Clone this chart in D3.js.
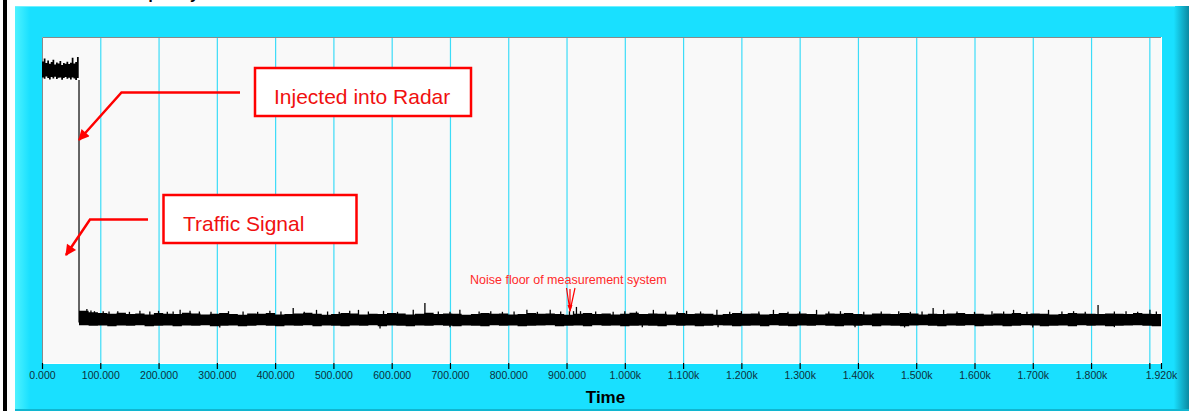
<!DOCTYPE html>
<html>
<head>
<meta charset="utf-8">
<script src="https://cdn.jsdelivr.net/npm/d3@7"></script>
<style>
  body { margin: 0; background: #fff; }
  svg { display: block; font-family: "Liberation Sans", Arial, sans-serif; }
</style>
</head>
<body>
<div id="chart"></div>
<script>
// time axis ticks
const tickValues = [0,100,200,300,400,500,600,700,800,900,1000,1100,1200,1300,1400,1500,1600,1700,1800,1900,1920];
const hiddenTickLabels = [1900];

// injected segment (before the drop), envelope of the noisy trace
const highStart = 0, highStep = 3;
const highTop = [92.5,93.4,92.0,92.8,91.8,92.3,93.0,91.6,92.2,91.9,92.6,91.4,92.0,91.8,92.4,91.7,92.1,93.6,91.9,92.3,93.9,92.6];
const highBot = [87.6,87.2,87.9,87.4,87.0,87.7,87.3,87.8,87.1,87.5,87.6,86.9,87.4,87.7,87.2,87.5,87.0,87.6,87.3,86.8,87.4,87.2];

// drop time
const dropTime = 63.5;
const dropLevel = [86.8, 12.4];

// noise floor segment, envelope sampled every 16 time units
const lowStart = 64, lowStep = 16;
const lowTop = [
16.0,15.6,15.3,15.1,15.4,15.0,15.2,14.9,15.3,15.1,
15.0,15.4,15.2,14.9,15.1,15.3,15.0,14.8,15.2,15.1,
15.3,14.9,15.0,15.2,15.4,15.1,14.8,15.0,15.3,15.2,
14.9,15.1,15.0,15.3,15.2,14.9,15.1,15.4,15.0,15.2,
15.1,14.8,15.0,15.3,15.1,15.2,14.9,15.0,15.3,15.1,
15.2,15.0,14.8,15.1,15.3,15.0,15.2,14.9,15.1,15.4,
15.0,15.2,15.1,14.9,15.3,15.0,15.2,15.1,14.8,15.0,
15.3,15.1,15.2,14.9,15.0,15.3,15.1,15.2,15.0,14.9,
15.2,15.1,15.3,15.0,14.9,15.2,15.1,15.0,15.3,15.2,
14.9,15.1,15.0,15.2,15.3,15.0,15.1,14.9,15.2,15.1,
15.3,15.0,15.2,15.1,14.9,15.0,15.3,15.2,15.1,15.0,
15.2,15.1,15.0,15.3,15.1,15.0,15.2];
const lowBot = [
11.6,11.4,11.5,11.3,11.5,11.4,11.6,11.3,11.4,11.5,
11.3,11.5,11.4,11.6,11.3,11.4,11.5,11.3,11.4,11.6,
11.4,11.3,11.5,11.4,11.6,11.3,11.5,11.4,11.3,11.5,
11.4,11.6,11.3,11.5,11.4,11.3,11.5,11.4,11.6,11.4,
11.3,11.5,11.4,11.3,11.6,11.4,11.5,11.3,11.4,11.5,
11.6,11.3,11.4,11.5,11.3,11.6,11.4,11.5,11.3,11.4,
11.5,11.4,11.3,11.6,11.4,11.5,11.3,11.4,11.6,11.5,
11.3,11.4,11.5,11.3,11.6,11.4,11.3,11.5,11.4,11.6,
11.4,11.3,11.5,11.4,11.6,11.3,11.5,11.4,11.3,11.5,
11.6,11.4,11.3,11.5,11.4,11.6,11.3,11.4,11.5,11.3,
11.4,11.6,11.5,11.3,11.4,11.5,11.3,11.6,11.4,11.5,
11.3,11.4,11.5,11.6,11.4,11.3,11.5];

// individual noise spikes [time, peak level]
const spikes = [
[77,16.6],[84,16.1],[90,15.9],[105,15.9],[115,15.8],[130,15.9],[150,15.7],[168,16.0],[185,15.8],[200,16.0],[215,15.7],
[225,15.8],[237,16.3],[254,16.0],[270,15.8],[290,15.7],[320,15.9],[345,15.8],[370,15.7],[391,16.0],[410,15.8],
[431,16.9],[450,15.7],[471,16.3],[490,15.8],[510,15.7],[528,16.0],[543,16.3],[560,15.8],[586,16.0],
[610,15.7],[637,16.3],[657,18.4],[680,15.8],[700,15.7],[717,16.3],[750,15.8],[770,15.9],[790,15.7],
[810,15.8],[832,16.3],[850,15.7],[872,16.3],[890,15.8],[905,15.9],[912,15.9],[917,17.2],[924,15.9],
[950,15.8],[980,15.7],[1000,15.9],[1020,15.8],[1049,16.3],[1070,15.8],[1090,15.7],[1106,16.0],[1130,15.8],
[1158,16.3],[1180,15.7],[1200,15.9],[1230,15.8],[1255,16.3],[1280,15.7],[1300,15.8],[1329,16.3],
[1350,15.8],[1370,15.9],[1410,15.7],[1440,15.8],[1470,15.9],[1490,15.7],[1510,15.8],[1529,16.9],
[1547,16.3],[1570,15.8],[1600,15.7],[1630,15.9],[1650,15.8],[1667,16.3],[1690,15.7],[1727,16.3],
[1750,15.8],[1770,15.9],[1790,15.7],[1812,17.8],[1840,15.8],[1860,15.9],[1880,15.7],[1901,16.3],[1912,15.8]];
// downward dips [time, lowest level]
const dips = [[305,10.9],[580,10.6],[700,11.0],[1030,11.0],[1160,11.0],[1395,11.0],[1480,10.9],[1700,10.9],[1840,11.0]];

const W = 1189, H = 411;
const plot = { left: 42, right: 1161, top: 37, bottom: 363 };

const svg = d3.select('#chart').append('svg')
  .attr('width', W)
  .attr('height', H);

const defs = svg.append('defs');

const rightEdge = defs.append('linearGradient').attr('id', 'right-edge');
rightEdge.append('stop').attr('offset', '0%').attr('stop-color', '#19dffd');
rightEdge.append('stop').attr('offset', '100%').attr('stop-color', '#0b8aa2');

const leftEdge = defs.append('linearGradient').attr('id', 'left-edge');
leftEdge.append('stop').attr('offset', '0%').attr('stop-color', '#4ff2ff');
leftEdge.append('stop').attr('offset', '100%').attr('stop-color', '#19e0ff');

defs.append('marker')
  .attr('id', 'red-arrow')
  .attr('viewBox', '0 -5 10 10')
  .attr('refX', 9)
  .attr('markerWidth', 16)
  .attr('markerHeight', 11)
  .attr('markerUnits', 'userSpaceOnUse')
  .attr('orient', 'auto')
  .append('path')
  .attr('d', 'M0,-5L10,0L0,5Z')
  .attr('fill', '#ff0000');

// page bits around the panel (title is cut off by the top of the picture)
svg.append('rect').attr('x', 3).attr('y', 0).attr('width', 4).attr('height', H).attr('fill', '#000');
svg.append('text')
  .attr('x', 118).attr('y', -1)
  .attr('font-size', 16).attr('font-weight', 'bold')
  .text('Frequency');

// cyan panel
svg.append('rect').attr('x', 15).attr('y', 6).attr('width', 1174).attr('height', 405).attr('fill', '#19e0ff');
svg.append('rect').attr('x', 15).attr('y', 6).attr('width', 15).attr('height', 405).attr('fill', 'url(#left-edge)');
svg.append('rect').attr('x', 1174).attr('y', 6).attr('width', 15).attr('height', 405).attr('fill', 'url(#right-edge)');
svg.append('rect').attr('x', 15).attr('y', 6).attr('width', 1160).attr('height', 1).attr('fill', '#6ef0ff');
svg.append('rect').attr('x', 15).attr('y', 409).attr('width', 1174).attr('height', 2).attr('fill', '#10b6d0');

// plot area
svg.append('rect')
  .attr('x', plot.left).attr('y', plot.top)
  .attr('width', plot.right - plot.left).attr('height', plot.bottom - plot.top)
  .attr('fill', '#f9f9f9');

const x = d3.scaleLinear().domain([0, 1920]).range([plot.left, plot.right]);
const y = d3.scaleLinear().domain([0, 100]).range([plot.bottom, plot.top]);

// grid lines
svg.append('g')
  .selectAll('line')
  .data(tickValues.filter(t => t > 0 && t < 1920))
  .join('line')
  .attr('x1', d => x(d) + 0.5).attr('x2', d => x(d) + 0.5)
  .attr('y1', plot.top).attr('y2', plot.bottom)
  .attr('stroke', '#3cdcf8')
  .attr('stroke-width', 1.2);

// plot frame
svg.append('path')
  .attr('d', `M${plot.left + 0.5},${plot.bottom}V${plot.top + 0.5}H${plot.right}`)
  .attr('fill', 'none').attr('stroke', '#8a8a8a');
svg.append('path')
  .attr('d', `M${plot.left},${plot.bottom + 0.5}H${plot.right + 0.5}V${plot.top}`)
  .attr('fill', 'none').attr('stroke', '#ffffff');

// trace
const trace = svg.append('g');

const highData = highTop.map((v, i) => ({ t: Math.min(highStart + i * highStep, dropTime), top: v, bot: highBot[i] }));
const lowData = lowTop.map((v, i) => ({ t: Math.min(lowStart + i * lowStep, 1920), top: v, bot: lowBot[i] }));
lowData.unshift({ t: dropTime, top: lowTop[0], bot: lowBot[0] });

const band = d3.area()
  .x(d => x(d.t))
  .y0(d => y(d.bot))
  .y1(d => y(d.top))
  .curve(d3.curveStepAfter);

trace.append('path').datum(highData).attr('d', band).attr('fill', '#000');
trace.append('path').datum(lowData).attr('d', band).attr('fill', '#000');

trace.append('path')
  .datum(dropLevel.map(v => ({ t: dropTime, v })))
  .attr('d', d3.line().x(d => x(d.t)).y(d => y(d.v)))
  .attr('stroke', '#000').attr('stroke-width', 1.2);

trace.selectAll('.spike')
  .data(spikes)
  .join('line')
  .attr('class', 'spike')
  .attr('x1', d => x(d[0])).attr('x2', d => x(d[0]))
  .attr('y1', y(13)).attr('y2', d => y(d[1]))
  .attr('stroke', '#000').attr('stroke-width', 1.3);

trace.selectAll('.dip')
  .data(dips)
  .join('line')
  .attr('class', 'dip')
  .attr('x1', d => x(d[0])).attr('x2', d => x(d[0]))
  .attr('y1', y(13)).attr('y2', d => y(d[1]))
  .attr('stroke', '#000').attr('stroke-width', 1.3);

// x axis
const fmt = t => t < 1000 ? d3.format('.3f')(t) : d3.format('.3f')(t / 1000) + 'k';
const axis = svg.append('g')
  .attr('transform', `translate(0,${plot.bottom})`)
  .call(d3.axisBottom(x)
    .tickValues(tickValues)
    .tickSize(6)
    .tickPadding(3)
    .tickFormat(t => hiddenTickLabels.includes(t) ? '' : fmt(t)));
axis.select('.domain').remove();
axis.selectAll('.tick line').attr('stroke', '#000').attr('stroke-width', 1.2);
axis.selectAll('.tick text')
  .attr('fill', '#0c2f3a')
  .attr('font-size', 10.5)
  .attr('font-family', '"Liberation Sans", Arial, sans-serif');

svg.append('text')
  .attr('x', (plot.left + plot.right) / 2 + 4)
  .attr('y', 403)
  .attr('text-anchor', 'middle')
  .attr('font-size', 17)
  .attr('font-weight', 'bold')
  .text('Time');

// annotations
const red = '#ff0000';
const notes = svg.append('g');

notes.append('rect')
  .attr('x', 255).attr('y', 68).attr('width', 216).attr('height', 48)
  .attr('fill', '#fff').attr('stroke', red).attr('stroke-width', 2.5);
notes.append('text')
  .attr('x', 274).attr('y', 104)
  .attr('font-size', 21).attr('fill', '#f01010')
  .text('Injected into Radar');
notes.append('path')
  .attr('d', 'M240,92.5H121.5L79,140')
  .attr('fill', 'none').attr('stroke', red).attr('stroke-width', 2.5)
  .attr('marker-end', 'url(#red-arrow)');

notes.append('rect')
  .attr('x', 163.5).attr('y', 195).attr('width', 193).attr('height', 48)
  .attr('fill', '#fff').attr('stroke', red).attr('stroke-width', 2.5);
notes.append('text')
  .attr('x', 183).attr('y', 231)
  .attr('font-size', 21).attr('fill', '#f01010')
  .text('Traffic Signal');
notes.append('path')
  .attr('d', 'M148,219.5H90L66,255')
  .attr('fill', 'none').attr('stroke', red).attr('stroke-width', 2.5)
  .attr('marker-end', 'url(#red-arrow)');

notes.append('text')
  .attr('x', 470).attr('y', 283.5)
  .attr('font-size', 12.5).attr('fill', '#ff2a2a')
  .text('Noise floor of measurement system');
notes.append('path')
  .attr('d', 'M566.5,288L570,311L575,288M570,289V311')
  .attr('fill', 'none').attr('stroke', red).attr('stroke-width', 1.2);
notes.append('path')
  .attr('d', 'M567.5,305L570,312L572.5,305Z')
  .attr('fill', red);
</script>
</body>
</html>
